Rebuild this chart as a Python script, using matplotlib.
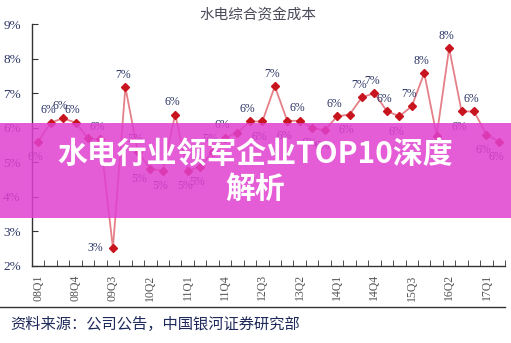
import numpy as np
import matplotlib
matplotlib.use("Agg")
import matplotlib.pyplot as plt
from matplotlib.patches import Rectangle
from matplotlib.lines import Line2D

plt.rcParams['font.family'] = ['Noto Sans CJK SC', 'DejaVu Sans']

# quarters 08Q1 .. 17Q2
quarters = [f'{y:02d}Q{q}' for y in range(8, 18) for q in range(1, 5)][:38]
cost = [5.60, 6.15, 6.27, 6.15, 5.69, 5.66, 2.52, 7.17,
        5.30, 4.81, 4.76, 6.38, 4.76, 4.87, 5.31, 5.71,
        5.86, 6.18, 6.18, 7.20, 6.20, 6.20, 6.00, 5.92,
        6.33, 6.38, 6.88, 7.00, 6.48, 6.33, 6.62, 7.58,
        5.77, 8.30, 6.47, 6.47, 5.80, 5.60]
# where each data label sits: a = above, b = below, l = left, '' = hidden
label_pos = ['b', 'a', 'a', 'a', '', 'a', 'l', 'a',
             'a', 'bl', 'b', 'a', 'b', 'b', 'a', 'a',
             '', 'a', 'b', 'a', 'b', 'a', 'b', 'b',
             'a', 'b', 'a', 'a', 'a', 'b', 'a', 'a',
             '', 'a', 'b', 'a', 'b', 'b']

title = '水电综合资金成本'
banner = '水电行业领军企业TOP10深度\n解析'
source = '资料来源：公司公告，中国银河证券研究部'

navy = '#2b3566'
serif = 'Liberation Serif'

fig = plt.figure(figsize=(5.11, 3.43), dpi=100)
ax = fig.add_axes([0.0626, 0.2245, 0.926, 0.7055])

x = np.arange(len(quarters))
ax.plot(x, cost, color='#e58088', lw=1.3, zorder=2)
ax.plot(x, cost, ls='none', marker='D', ms=4.5, color='#c8141e', zorder=3)

offsets = {'a': (-2, 9), 'b': (-2, -11), 'bl': (-8, -7), 'l': (-13, 0)}
for xi, v, p in zip(x, cost, label_pos):
    if not p:
        continue
    ax.annotate(f'{v:.0f}%', (xi, v), xytext=offsets[p], textcoords='offset points',
                ha='center', va='center', fontsize=8.5, color=navy, family=serif)

ax.set_xlim(-0.5, len(quarters) - 0.5)
ax.set_ylim(2, 9)
ax.set_yticks(range(2, 10))
ax.set_yticklabels([f'{t}%' for t in range(2, 10)], family=serif, fontsize=9.5, color=navy)
ax.set_xticks(x[::3])
ax.set_xticklabels(quarters[::3], rotation=90, family=serif, fontsize=8.5, color='#555555')
ax.set_xticks(np.arange(-0.5, len(quarters), 1), minor=True)
ax.tick_params(axis='x', which='major', length=0, pad=6)
ax.tick_params(axis='x', which='minor', direction='in', length=4, color='#333333')
ax.tick_params(axis='y', direction='in', length=4, pad=8, color='#333333')
for s in ['top', 'right']:
    ax.spines[s].set_visible(False)
for s in ['left', 'bottom']:
    ax.spines[s].set_color('#333333')
    ax.spines[s].set_linewidth(1)

fig.text(0.505, 0.955, title, ha='center', va='center', fontsize=10.5, color='#4a4a5a')

fig.add_artist(Line2D([0, 0.988], [0.105, 0.105], color='#333333', lw=1))
fig.text(0.02, 0.055, source, ha='left', va='center', fontsize=11, color='#1f2a5a')

fig.add_artist(Rectangle((0, 0.364), 1, 0.277, transform=fig.transFigure,
                         facecolor='#e040d0', alpha=0.85, edgecolor='none', zorder=5))
fig.text(0.5, 0.5, banner, ha='center', va='center', fontsize=21.5, fontweight=900,
         color='white', linespacing=1.2, zorder=6)

fig.savefig('out.png', dpi=100)
